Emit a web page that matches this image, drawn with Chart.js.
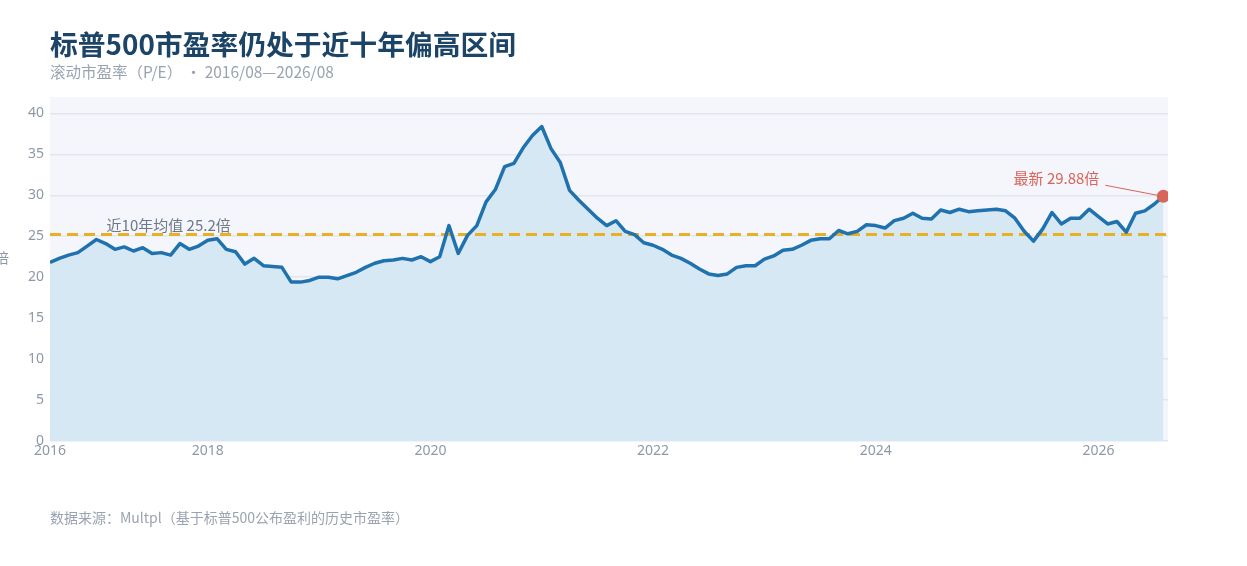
<!DOCTYPE html>
<html>
<head>
<meta charset="utf-8">
<script src="https://cdn.jsdelivr.net/npm/chart.js@4.4.1/dist/chart.umd.min.js"></script>
<style>
  body { margin: 0; background: #ffffff; font-family: "Noto Sans CJK SC", "Noto Sans", sans-serif; }
  #wrap { position: relative; width: 1247px; height: 566px; }
  #peChart { position: absolute; left: 0; top: 0; }
  .title { position: absolute; left: 50px; top: 28px; font-size: 27.8px; font-weight: 700; color: #1c4467; line-height: 1.1; white-space: nowrap; }
  .subtitle { position: absolute; left: 50px; top: 63px; font-size: 15.5px; color: #9aa3b0; line-height: 1.1; white-space: nowrap; }
  .source { position: absolute; left: 50px; top: 510px; font-size: 14px; color: #9aa3b0; line-height: 1.1; white-space: nowrap; }
</style>
</head>
<body>
<div id="wrap">
  <canvas id="peChart" width="1247" height="566"></canvas>
  <div class="title">标普500市盈率仍处于近十年偏高区间</div>
  <div class="subtitle">滚动市盈率（P/E） · 2016/08—2026/08</div>
  <div class="source">数据来源：Multpl（基于标普500公布盈利的历史市盈率）</div>
</div>
<script>
// monthly trailing P/E, 2016/08 (index 0) to 2026/08 (index 120)
const peValues = [
  21.8, 22.3, 22.7, 23.0, 23.8, 24.6, 24.1, 23.4, 23.7, 23.2,
  23.6, 22.9, 23.0, 22.7, 24.1, 23.4, 23.8, 24.5, 24.7, 23.4,
  23.1, 21.6, 22.3, 21.4, 21.3, 21.2, 19.4, 19.4, 19.6, 20.0,
  20.0, 19.8, 20.2, 20.6, 21.2, 21.7, 22.0, 22.1, 22.3, 22.1,
  22.5, 21.9, 22.5, 26.3, 22.9, 25.1, 26.3, 29.2, 30.7, 33.5,
  33.9, 35.8, 37.3, 38.4, 35.7, 34.0, 30.6, 29.4, 28.3, 27.2,
  26.3, 26.9, 25.6, 25.2, 24.2, 23.9, 23.4, 22.7, 22.3, 21.7,
  21.0, 20.4, 20.2, 20.4, 21.2, 21.4, 21.4, 22.2, 22.6, 23.3,
  23.4, 23.9, 24.5, 24.7, 24.7, 25.7, 25.3, 25.6, 26.4, 26.3,
  26.0, 26.9, 27.2, 27.8, 27.2, 27.1, 28.2, 27.9, 28.3, 28.0,
  28.1, 28.2, 28.3, 28.1, 27.2, 25.6, 24.4, 25.9, 27.9, 26.5,
  27.2, 27.2, 28.3, 27.4, 26.5, 26.8, 25.5, 27.8, 28.1, 28.9,
  29.88
];
const meanValue = 25.2;
const latestValue = 29.88;

// x tick positions (month index) and their labels
const tickIndex = [0, 17, 41, 65, 89, 113];
const tickLabels = ["2016", "2018", "2020", "2022", "2024", "2026"];
const xMax = 120.5;

const lastIndex = peValues.length - 1;
const linePoints = peValues.map((v, i) => ({ x: i, y: v }));

const grayText = "#8e98a8";
const redColor = "#d9645a";

// plot background + annotations
const decorPlugin = {
  id: "decor",
  beforeDraw(chart) {
    const a = chart.chartArea;
    const ctx = chart.ctx;
    ctx.save();
    ctx.fillStyle = "#f4f6fb";
    ctx.fillRect(a.left, a.top, a.right - a.left, a.bottom - a.top);
    ctx.restore();
  },
  afterDraw(chart) {
    const ctx = chart.ctx;
    const xs = chart.scales.x;
    const ys = chart.scales.y;
    ctx.save();
    ctx.font = '15px "Noto Sans CJK SC", "Noto Sans", sans-serif';
    // mean label
    ctx.fillStyle = "#6e7888";
    ctx.textAlign = "left";
    ctx.textBaseline = "bottom";
    ctx.fillText("近10年均值 " + meanValue + "倍", xs.getPixelForValue(6.1), ys.getPixelForValue(meanValue) - 2);
    // latest label with leader line
    const px = xs.getPixelForValue(lastIndex);
    const py = ys.getPixelForValue(latestValue);
    ctx.fillStyle = redColor;
    ctx.textAlign = "right";
    ctx.textBaseline = "middle";
    ctx.fillText("最新 " + latestValue + "倍", px - 64, py - 18);
    ctx.strokeStyle = redColor;
    ctx.lineWidth = 1;
    ctx.beginPath();
    ctx.moveTo(px - 58, py - 11);
    ctx.lineTo(px - 6, py - 1);
    ctx.stroke();
    // y unit
    ctx.fillStyle = grayText;
    ctx.font = '14px "Noto Sans CJK SC", sans-serif';
    ctx.textAlign = "center";
    ctx.fillText("倍", 2, 258);
    ctx.restore();
  }
};

new Chart(document.getElementById("peChart"), {
  type: "line",
  data: {
    datasets: [
      {
        label: "最新",
        data: [{ x: lastIndex, y: latestValue }],
        pointRadius: 6.5,
        pointBackgroundColor: redColor,
        pointBorderWidth: 0,
        showLine: false,
        order: 0
      },
      {
        label: "市盈率",
        data: linePoints,
        borderColor: "#1f72ae",
        borderWidth: 3.5,
        backgroundColor: "#d6e8f4",
        fill: "origin",
        tension: 0,
        pointRadius: 0,
        borderJoinStyle: "round",
        order: 1
      },
      {
        label: "均值",
        data: [{ x: 0, y: meanValue }, { x: xMax, y: meanValue }],
        borderColor: "#e8b025",
        borderWidth: 3,
        borderDash: [11, 6],
        pointRadius: 0,
        fill: false,
        order: 2
      }
    ]
  },
  options: {
    responsive: false,
    animation: false,
    layout: { padding: { top: 97, right: 79, bottom: 105, left: 0 } },
    plugins: {
      legend: { display: false },
      tooltip: { enabled: false },
      filler: { drawTime: "beforeDatasetsDraw" }
    },
    scales: {
      x: {
        type: "linear",
        min: 0,
        max: xMax,
        grid: { display: false, drawTicks: false },
        border: { display: false },
        afterFit(scale) { scale.height = 20; },
        afterBuildTicks(scale) { scale.ticks = tickIndex.map(v => ({ value: v })); },
        ticks: {
          autoSkip: false,
          maxRotation: 0,
          padding: 2,
          color: grayText,
          font: { size: 14, family: '"Noto Sans", sans-serif' },
          callback: v => tickLabels[tickIndex.indexOf(v)]
        }
      },
      y: {
        min: 0,
        max: 42,
        afterFit(scale) { scale.width = 50; },
        afterBuildTicks(scale) { scale.ticks = scale.ticks.filter(t => t.value % 5 === 0); },
        grid: { color: "#e2e6ef", lineWidth: 1.5, drawTicks: false },
        border: { display: false },
        ticks: {
          stepSize: 5,
          padding: 6,
          color: grayText,
          font: { size: 14, family: '"Noto Sans", sans-serif' }
        }
      }
    }
  },
  plugins: [decorPlugin]
});
</script>
</body>
</html>
